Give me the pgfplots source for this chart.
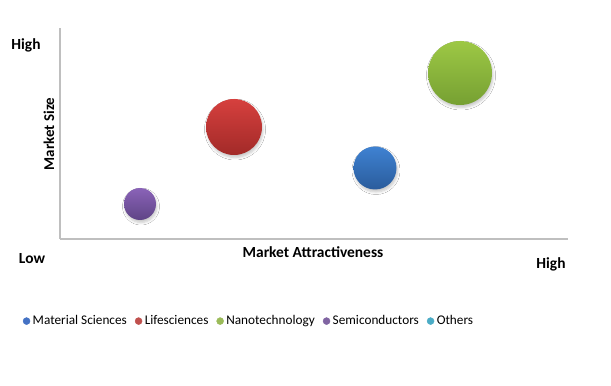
\documentclass[border=0pt]{standalone}
\usepackage{pgfplots}
\pgfplotsset{compat=1.18}
\usepackage{fontspec}
\setmainfont{Carlito}
\usetikzlibrary{shadows.blur}
\definecolor{cblue}{HTML}{4472C4}
\definecolor{cred}{HTML}{C0504D}
\definecolor{cgreen}{HTML}{9BBB59}
\definecolor{cpurple}{HTML}{8064A2}
\definecolor{cteal}{HTML}{4BACC6}
\definecolor{bluetop}{HTML}{3F82D2}
\definecolor{bluebot}{HTML}{2A5C9C}
\definecolor{redtop}{HTML}{D6403E}
\definecolor{redbot}{HTML}{A22A28}
\definecolor{greentop}{HTML}{9DC845}
\definecolor{greenbot}{HTML}{76A032}
\definecolor{purpletop}{HTML}{8A63B8}
\definecolor{purplebot}{HTML}{5F4486}
\pgfplotsset{
  bubble/.style 2 args={scatter, only marks, mark=*, mark size=0.01pt,
    visualization depends on={\thisrow{r}\as\rad},
    scatter/@pre marker code/.code={\shade[draw=none, top color=#1, bottom color=#2,
      blur shadow={shadow blur steps=5, shadow blur radius=2.5bp, shadow xshift=1bp, shadow yshift=-2.5bp, shadow opacity=22}]
      (0,0) circle (\rad bp);\begin{scope}[opacity=0]},
    scatter/@post marker code/.code={\end{scope}},
    forget plot}
}
\begin{document}
\begin{tikzpicture}
\path[use as bounding box, fill=white] (0,0) rectangle (611bp,386bp);
\begin{axis}[
  at={(60bp,147bp)}, anchor=south west,
  scale only axis, width=508bp, height=211bp,
  xmin=0, xmax=508, ymin=0, ymax=211,
  axis lines=left,
  axis line style={-, draw=black!25, line width=1.3bp},
  xtick=\empty, ytick=\empty,
  clip=false,
  legend style={at={(0.372,-0.389)}, anchor=center, draw=none, fill=none,
    legend columns=5, font=\fontsize{13.3}{15}\selectfont,
    /tikz/every odd column/.append style={column sep=0.5bp},
    /tikz/every even column/.append style={column sep=6bp}},
  legend image code/.code={\fill[#1] (3.5bp,0bp) circle (3.5bp);},
]
\addplot[bubble={purpletop}{purplebot}] table {
x y r
80 35 16
};
\addplot[bubble={redtop}{redbot}] table {
x y r
174 112 28
};
\addplot[bubble={bluetop}{bluebot}] table {
x y r
315 71 21.5
};
\addplot[bubble={greentop}{greenbot}] table {
x y r
400 166 32
};
\addlegendimage{cblue}
\addlegendentry{Material Sciences}
\addlegendimage{cred}
\addlegendentry{Lifesciences}
\addlegendimage{cgreen}
\addlegendentry{Nanotechnology}
\addlegendimage{cpurple}
\addlegendentry{Semiconductors}
\addlegendimage{cteal}
\addlegendentry{Others}
\node[font=\fontsize{15.5}{17}\selectfont\bfseries] at (axis cs:-34,194) {High};
\node[font=\fontsize{15.5}{17}\selectfont\bfseries] at (axis cs:-28,-20) {Low};
\node[font=\fontsize{15.5}{17}\selectfont\bfseries] at (axis cs:491,-25) {High};
\node[font=\fontsize{15}{17}\selectfont\bfseries, rotate=90] at (axis cs:-11,105) {Market Size};
\node[font=\fontsize{15.5}{17}\selectfont\bfseries] at (axis cs:253,-13) {Market Attractiveness};
\end{axis}
\end{tikzpicture}
\end{document}
